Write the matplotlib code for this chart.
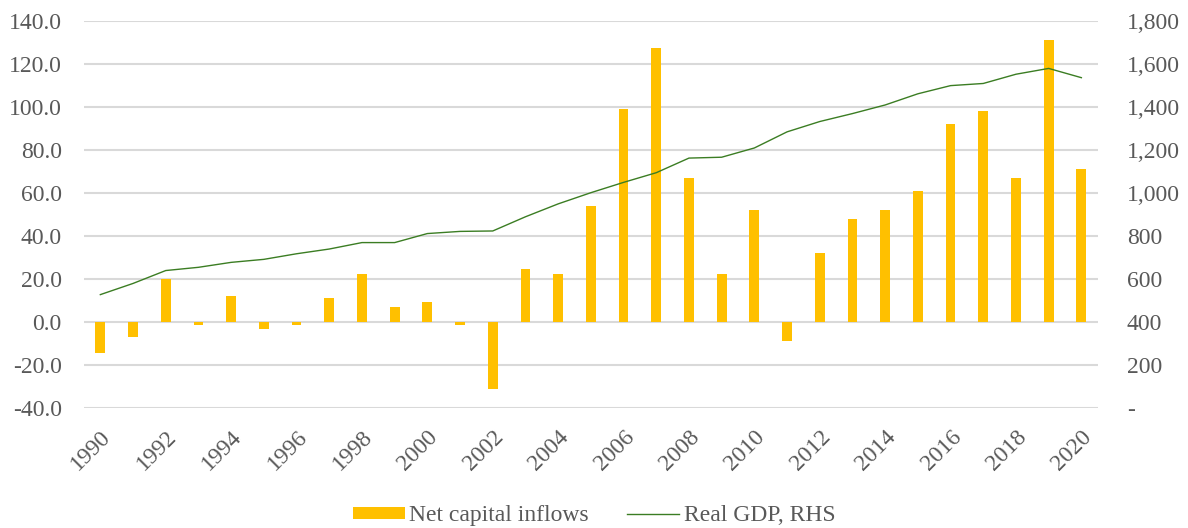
import matplotlib.pyplot as plt
from matplotlib.ticker import FuncFormatter

years = list(range(1990, 2021))
net_inflows = [-14.5, -7.0, 20.0, -1.5, 12.0, -3.0, -1.5, 11.0, 22.5, 7.0,
               9.5, -1.5, -31.0, 24.5, 22.5, 54.0, 99.0, 127.5, 67.0, 22.5,
               52.0, -9.0, 32.0, 48.0, 52.0, 61.0, 92.0, 98.0, 67.0, 131.0, 71.0]
real_gdp = [528, 580, 640, 655, 678, 692, 718, 740, 770, 770,
            812, 822, 824, 890, 950, 1002, 1050, 1095, 1163, 1167,
            1210, 1285, 1333, 1370, 1410, 1462, 1500, 1510, 1553, 1580, 1537]

plt.rcParams['font.family'] = ['Liberation Serif', 'DejaVu Serif']
grey = '#595959'
fs = 17

fig, ax = plt.subplots(figsize=(11.88, 5.28), dpi=100)
fig.subplots_adjust(left=0.0707, right=0.924, top=0.96, bottom=0.227)

x = list(range(len(years)))
bars = ax.bar(x, net_inflows, width=0.3, color='#FFC000', zorder=2)
ax.set_ylim(-40, 140)
ax.set_yticks(range(-40, 141, 20))
ax.yaxis.set_major_formatter(FuncFormatter(lambda v, p: f'{v:.1f}'))
ax.grid(axis='y', color='#D9D9D9', linewidth=1.5, zorder=0)
ax.set_axisbelow(True)
ax.set_xlim(-0.5, len(years) - 0.5)
ax.set_xticks(x[::2])
ax.set_xticklabels([str(y) for y in years[::2]], rotation=45, ha='right',
                   rotation_mode='anchor')

ax2 = ax.twinx()
line, = ax2.plot(x, real_gdp, color='#3B7D23', linewidth=1.0)
ax2.set_ylim(0, 1800)
ax2.set_yticks(range(0, 1801, 200))
ax2.yaxis.set_major_formatter(FuncFormatter(lambda v, p: '-' if v == 0 else f'{v:,.0f}'))

for a in (ax, ax2):
    for s in a.spines.values():
        s.set_visible(False)
    a.tick_params(length=0, labelsize=fs, labelcolor=grey)
ax.tick_params(axis='y', pad=16)
ax.tick_params(axis='x', pad=13)
ax2.tick_params(axis='y', pad=21)

fig.legend([bars, line], ['Net capital inflows', 'Real GDP, RHS'],
           loc='lower center', bbox_to_anchor=(0.5, -0.037), ncol=2,
           frameon=False, fontsize=fs, labelcolor=grey, handlelength=2.2,
           handleheight=0.45, columnspacing=1.6, handletextpad=0.2)

fig.savefig('out.png', dpi=100)
